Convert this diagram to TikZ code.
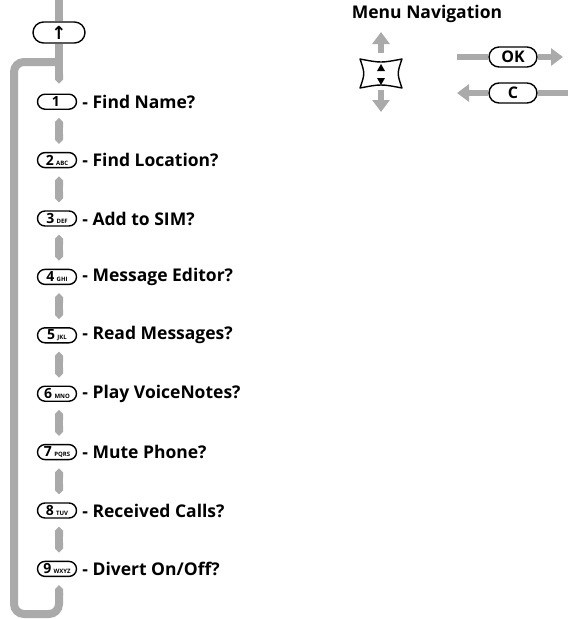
\documentclass[tikz,border=0pt]{standalone}
\usepackage{fontspec}
\setmainfont{Open Sans}
\newfontfamily\arrowfont{DejaVu Sans}
\usetikzlibrary{positioning,arrows.meta}
\definecolor{bargray}{RGB}{170,170,170}
\newcommand{\keylbl}[2]{#1\,{\fontsize{6}{6}\selectfont #2}}
\tikzset{
	key/.style={draw, line width=1.4pt, rounded corners=7.5pt, minimum width=39pt, minimum height=15pt, inner sep=0pt, font=\bfseries\fontsize{14}{14}\selectfont},
	navkey/.style={key, minimum width=48pt, minimum height=20pt, rounded corners=10pt, font=\bfseries\fontsize{16}{16}\selectfont},
	menutext/.style={inner sep=0pt, font=\bfseries\fontsize{17.5}{17.5}\selectfont},
	bar/.style={draw=bargray, line width=8pt},
	navline/.style={draw=bargray, line width=6pt},
	navtip/.style={-{Triangle[length=12pt,width=17pt]}}
}

\begin{document}
\begin{tikzpicture}[x=1pt,y=-1pt]
	\useasboundingbox (0,0) rectangle (568,619);

	\node[key, minimum width=52pt, minimum height=21pt, rounded corners=10.5pt, font=\arrowfont\bfseries\fontsize{18}{18}\selectfont] (up) at (59,32.5) {↑};
	\foreach \n/\abc/\txt in {1/{}/Find Name?, 2/ABC/Find Location?, 3/DEF/Add to SIM?, 4/GHI/Message Editor?, 5/JKL/Read Messages?, 6/MNO/Play VoiceNotes?, 7/PQRS/Mute Phone?, 8/TUV/Received Calls?, 9/WXYZ/{Divert On/Off?}}{
		\node[key] (k\n) at (57,{101.7+58.4*(\n-1)}) {\keylbl{\n}{\abc}};
		\node[menutext, right=5pt of k\n] (t\n) {- \txt};
	}

	\coordinate (topend) at (59,0);
	\coordinate (loopcorner) at (14,614);
	\coordinate (loopjoin) at (59,62);
	\draw[bar] (topend) -- (up.north);
	\draw[bar, -{Triangle Cap[]}] (up.south) -- ([xshift=2pt,yshift=10pt]k1.north);
	\foreach \n [evaluate=\n as \m using int(\n+1)] in {1,...,8}
		\draw[bar, {Triangle Cap[]}-{Triangle Cap[]}] ([xshift=2pt,yshift=-8pt]k\n.south) -- ([xshift=2pt,yshift=8pt]k\m.north);
	\draw[bar, {Triangle Cap[]}-, rounded corners=10pt] ([xshift=2pt,yshift=-8pt]k9.south) |- (loopcorner) |- (loopjoin);

	\node[menutext] (navtitle) at (427,14) {Menu Navigation};
	\node[minimum width=42pt, minimum height=29pt] (scroll) at (381,73.5) {};
	\draw[line width=1.4pt, line join=round] (360,59) .. controls (381,63) .. (402,59) .. controls (397,73.5) .. (402,88) .. controls (381,84) .. (360,88) .. controls (365,73.5) .. (360,59) -- cycle;
	\fill (377,71) -- (385,71) -- (381,64) -- cycle;
	\fill (377,78) -- (385,78) -- (381,85) -- cycle;
	\coordinate (navup) at (381,32);
	\coordinate (navdown) at (381,112);
	\draw[navline, navtip] ([yshift=6pt]scroll.north) -- (navup);
	\draw[navline, navtip] ([yshift=-2pt]scroll.south) -- (navdown);

	\node[navkey] (ok) at (513,57) {OK};
	\node[navkey] (c) at (513,93) {C};
	\coordinate (okin) at (457,57);
	\coordinate (okout) at (563,57);
	\coordinate (cout) at (457,93);
	\coordinate (cin) at (568,93);
	\draw[navline] (okin) -- (ok.west);
	\draw[navline, navtip] (ok.east) -- (okout);
	\draw[navline, navtip] (c.west) -- (cout);
	\draw[navline] (c.east) -- (cin);
\end{tikzpicture}
\end{document}
